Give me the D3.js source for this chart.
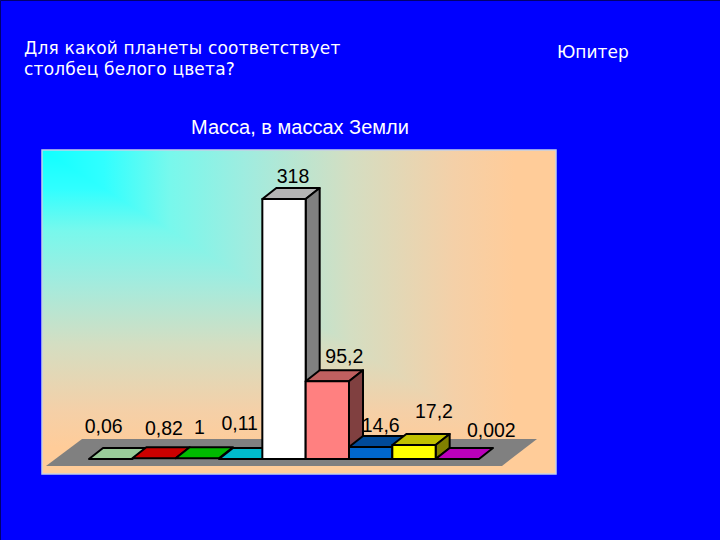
<!DOCTYPE html>
<html><head><meta charset="utf-8">
<script src="https://cdn.jsdelivr.net/npm/d3@7/dist/d3.min.js"></script>
<style>html,body{margin:0;padding:0;background:#0000ff}svg{display:block}</style>
</head><body><svg id="c" width="720" height="540"></svg>
<script>
const planets = ["Меркурий","Венера","Земля","Марс","Юпитер","Сатурн","Уран","Нептун","Плутон"];
const masses = [0.06,0.82,1,0.11,318,95.2,14.6,17.2,0.002];
const labels = ["0,06","0,82","1","0,11","318","95,2","14,6","17,2","0,002"];
const frontColors = ["#99cc99","#cc0000","#00bb00","#00bbcc","#ffffff","#ff8080","#0066cc","#ffff00","#bb00bb"];
const topColors = ["#99cc99","#cc0000","#00bb00","#00bbcc","#b4b4b4","#c06060","#004a99","#c0c000","#bb00bb"];
const sideColors = ["#668866","#880000","#007700","#007788","#808080","#804040","#003366","#808000","#770077"];
const labelDx = [-14,3,-5,-8,2,10,3,13,27];
const labelDy = [-15,-12,-13,-18,-5,-7,-4,-16,-11];
const gradOffsets = [0,0.12,0.25,0.4,0.6,0.8,0.92];
const gradColors = ["#10ffff","#30ffff","#78f8ec","#a0ecdf","#d4dec2","#f4d0a8","#ffcc99"];

const svg = d3.select("#c");
const W=720,H=540;
svg.append("rect").attr("width",W).attr("height",H).attr("fill","#0000ff");
svg.append("path").attr("d","M0.5,540V0.5H720").attr("fill","none").attr("stroke","#000070");

const px=42,py=150,pw=514,ph=324;
const defs = svg.append("defs");
const mk=(id,x2,y2)=>{const g=defs.append("linearGradient").attr("id",id).attr("gradientUnits","userSpaceOnUse")
  .attr("x1",px).attr("y1",py).attr("x2",x2).attr("y2",y2);
  gradOffsets.forEach((o,i)=>g.append("stop").attr("offset",o).attr("stop-color",gradColors[i]));};
mk("gv",px,py+ph); mk("gh",px+pw,py);

const txt=(x,y,s,fs,fam,extra)=>{const t=svg.append("text").attr("x",x).attr("y",y).attr("fill","#fff").attr("font-family",fam).attr("font-size",fs).text(s);
  if(extra) Object.entries(extra).forEach(([a,b])=>t.attr(a,b));return t;};
txt(24,54,"Для какой планеты соответствует",17,"'DejaVu Sans'",{"letter-spacing":0.2});
txt(24,75,"столбец белого цвета?",17,"'DejaVu Sans'",{"letter-spacing":0.2});
txt(557,58,"Юпитер",17,"'DejaVu Sans'");
txt(300,134,"Масса, в массах Земли",20,"'Liberation Sans'",{"text-anchor":"middle"});

const line = d3.line();
svg.append("rect").attr("x",px).attr("y",py).attr("width",pw).attr("height",ph).attr("fill","url(#gv)");
svg.append("path").attr("d",line([[px,py],[px+pw,py],[px+pw,py+ph]])+"Z").attr("fill","url(#gh)");
svg.append("rect").attr("x",px).attr("y",py).attr("width",pw).attr("height",ph).attr("fill","none").attr("stroke","#c4cfe8").attr("stroke-width",1.5);

const x = d3.scaleBand().domain(planets).range([89,479]);
const y = d3.scaleLinear().domain([0,318]).range([459,199]);
const dx=14, dy=-11;
const base = y(0);

svg.append("path").attr("fill","#808080")
 .attr("d",line([[46,466],[82,439],[537,439],[502,466]])+"Z");

const bars = svg.selectAll("g.bar").data(planets).join("g").attr("class","bar");
bars.each(function(p,i){
  const s=d3.select(this), l=x(p), r=l+x.bandwidth(), t=y(masses[i]);
  const add=(pts,f)=>s.append("path").attr("d",line(pts)+"Z").attr("fill",f)
    .attr("stroke","#000").attr("stroke-width",2).attr("stroke-linejoin","round");
  add([[l,t],[l+dx,t+dy],[r+dx,t+dy],[r,t]], topColors[i]);
  if(base-t>2){
    add([[r,t],[r+dx,t+dy],[r+dx,base+dy],[r,base]], sideColors[i]);
    add([[l,t],[r,t],[r,base],[l,base]], frontColors[i]);
  }
});
svg.selectAll("text.v").data(planets).join("text").attr("class","v")
 .attr("x",(p,i)=>x(p)+x.bandwidth()/2+dx/2+labelDx[i])
 .attr("y",(p,i)=>y(masses[i])+dy+labelDy[i])
 .attr("text-anchor","middle").attr("fill","#000").attr("font-family","'Liberation Sans'").attr("font-size",19.5)
 .text((p,i)=>labels[i]);
</script></body></html>
